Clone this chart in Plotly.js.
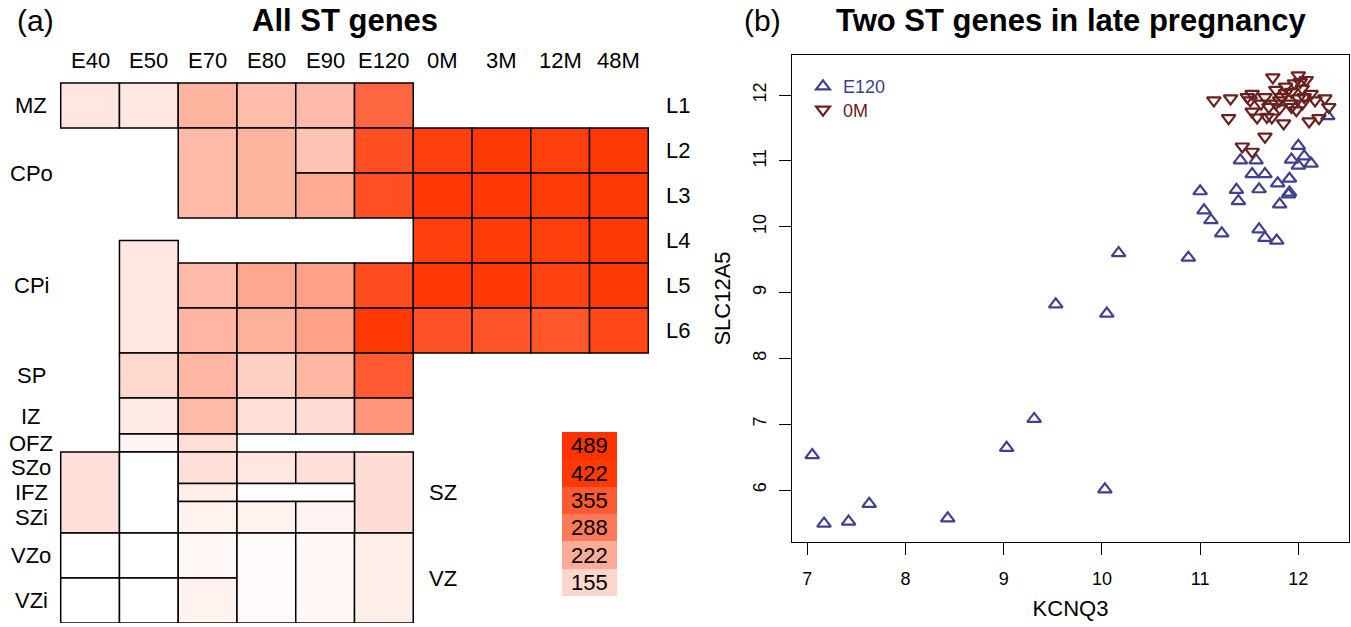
<!DOCTYPE html>
<html>
<head>
<meta charset="utf-8">
<script src="https://cdn.plot.ly/plotly-3.0.1.min.js"></script>
<style>html,body{margin:0;padding:0;background:#fff;}#chart{width:1351px;height:627px;}</style>
</head>
<body>
<div id="chart"></div>
<script>
// ---------------- Panel (a) data ----------------
const timepoints = ["E40","E50","E70","E80","E90","E120","0M","3M","12M","48M"];
const leftZones = ["MZ","CPo","CPi","SP","IZ","OFZ","SZo","IFZ","SZi","VZo","VZi"];
const leftZoneTop    = [0, 1, 3, 6, 7,   7.8, 8.2, 8.9, 9.3, 10, 11];
const leftZoneBottom = [1, 3, 6, 7, 7.8, 8.2, 8.9, 9.3, 10,  11, 12];
const rightZones = ["L1","L2","L3","L4","L5","L6","SZ","VZ"];
const rightZoneTop    = [0, 1, 2, 3, 4, 5, 8.2, 10];
const rightZoneBottom = [1, 2, 3, 4, 5, 6, 10,  12];
// cells: time index, number of time columns spanned, depth top/bottom (layer units), number of ST genes
const cellTime   = [0,1,2,3,4,5, 2,3,4,4,5,5, 6,7,8,9, 6,7,8,9, 6,7,8,9, 1, 2,3,4,5,6,7,8,9, 2,3,4,5,6,7,8,9, 1,2,3,4,5, 1,2,3,4,5, 1,2, 0,1,2,3,4,5,2,3,2,3,4, 0,1,2,0,1,2,3,4,5];
const cellSpan   = [1,1,1,1,1,1, 1,1,1,1,1,1, 1,1,1,1, 1,1,1,1, 1,1,1,1, 1, 1,1,1,1,1,1,1,1, 1,1,1,1,1,1,1,1, 1,1,1,1,1, 1,1,1,1,1, 1,1, 1,1,1,1,1,1,1,2,1,1,1, 1,1,1,1,1,1,1,1,1];
const cellTop    = [0,0,0,0,0,0, 1,1,1,2,1,2, 1,1,1,1, 2,2,2,2, 3,3,3,3, 3.5, 4,4,4,4,4,4,4,4, 5,5,5,5,5,5,5,5, 6,6,6,6,6, 7,7,7,7,7, 7.8,7.8, 8.2,8.2,8.2,8.2,8.2,8.2,8.9,8.9,9.3,9.3,9.3, 10,10,10,11,11,11,10,10,10];
const cellBottom = [1,1,1,1,1,1, 3,3,2,3,2,3, 2,2,2,2, 3,3,3,3, 4,4,4,4, 6, 5,5,5,5,5,5,5,5, 6,6,6,6,6,6,6,6, 7,7,7,7,7, 7.8,7.8,7.8,7.8,7.8, 8.2,8.2, 10,10,8.9,8.9,8.9,10,9.3,9.3,10,10,10, 11,11,11,12,12,12,12,12,12];
const cellValue  = [95,87,210,197,199,330, 200,210,183,224,378,378, 410,430,412,425, 440,440,418,430, 410,418,410,425, 92,
                    199,230,237,385,440,440,405,435, 207,215,237,440,374,370,364,395,
                    148,205,165,205,355, 80,202,118,129,252, 38,118,
                    118,0,118,95,118,129,65,0,49,49,42, 0,0,27,0,0,49,19,27,68];
const keyValues = [489,422,355,288,222,155];

// ---------------- Panel (b) data ----------------
const e120X = [7.05,7.17,7.42,7.63,8.43,9.03,9.31,10.03,10.05,9.53,10.17,10.88,11.00,11.04,11.11,11.22,11.37,11.39,11.41,11.57,11.53,11.66,11.60,11.79,11.60,11.66,11.78,11.81,11.91,11.90,11.91,12.00,11.93,12.06,12.00,12.13,12.30];
const e120Y = [6.53,5.49,5.52,5.79,5.57,6.64,7.08,6.01,8.68,8.82,9.60,9.53,10.54,10.25,10.10,9.90,10.56,10.39,11.01,11.01,10.80,10.80,10.57,10.66,9.96,9.83,9.79,10.34,10.73,10.49,10.52,11.23,11.02,11.07,10.93,10.96,11.68];
const m0X = [11.14,11.31,11.29,11.48,11.53,11.51,11.53,11.58,11.66,11.68,11.73,11.74,11.77,11.77,11.81,11.85,11.83,11.87,11.91,11.93,11.96,12.00,12.02,12.04,12.06,12.08,11.98,12.00,12.11,12.17,12.21,12.27,12.31,11.66,11.43,11.53,11.87,11.81,11.93,12.04,11.70,11.62,12.13];
const m0Y = [11.92,11.95,11.65,11.97,12.02,11.92,11.75,11.66,11.97,11.67,11.66,12.27,12.08,11.87,11.92,11.57,11.97,12.13,11.87,12.05,12.18,12.30,12.20,12.10,11.97,12.23,11.77,11.95,11.60,11.92,11.65,11.95,11.82,11.37,11.22,11.14,12.03,11.80,11.82,11.87,11.82,11.87,12.02];
const xTicks = [7,8,9,10,11,12];
const yTicks = [6,7,8,9,10,11,12];

// ---------------- styling / layout constants ----------------
const FONT = "Liberation Sans, Arial, Helvetica, sans-serif";
const W = 1351, H = 627;
const colorscale = [[0,'#FFFFFF'],[155/489,'#FFD6CC'],[222/489,'#FFAC96'],[288/489,'#FF7A5A'],[355/489,'#FF5A32'],[422/489,'#FF3A05'],[1,'#FF3300']];
const BLUE = '#40408F', RED = '#6B2020';

const cellTrace = {
  type:'bar', xaxis:'x2', yaxis:'y2',
  x: cellTime.map((c,i)=>c + cellSpan[i]/2),
  width: cellSpan.slice(),
  base: cellTop.slice(),
  y: cellBottom.map((b,i)=>b - cellTop[i]),
  marker:{color: cellValue.slice(), colorscale: colorscale, cmin:0, cmax:489,
          line:{color:'#000', width:1.5}},
  hoverinfo:'skip', showlegend:false
};
const keyTop = 7.76, keyStep = 0.607, keyCol = 9, keyWidth = 0.94;
const keyTrace = {
  type:'bar', xaxis:'x2', yaxis:'y2',
  x: keyValues.map(()=>keyCol),
  width: keyValues.map(()=>keyWidth),
  base: keyValues.map((v,i)=>keyTop + i*keyStep),
  y: keyValues.map(()=>keyStep),
  marker:{color: keyValues.slice(), colorscale: colorscale, cmin:0, cmax:489, line:{width:0}},
  hoverinfo:'skip', showlegend:false
};

const e120Trace = {type:'scatter', mode:'markers', x:e120X, y:e120Y, name:'E120', legend:'legend',
  marker:{symbol:'triangle-up-open', size:12, color:BLUE, line:{width:2.2, color:BLUE}}};
const m0Trace = {type:'scatter', mode:'markers', x:m0X, y:m0Y, name:'0M', legend:'legend2',
  marker:{symbol:'triangle-down-open', size:12, color:RED, line:{width:2.2, color:RED}}};

const annotations = [];
const txt = (text, x, y, size, extra) => Object.assign({text, x, y, xref:'x2', yref:'y2', showarrow:false,
  xanchor:'center', yanchor:'middle', font:{family:FONT, size, color:'#000'}}, extra||{});
timepoints.forEach((t,i)=>annotations.push(txt(t, i+0.5, -0.5, 22)));
leftZones.forEach((z,i)=>annotations.push(txt(z, -0.5, (leftZoneTop[i]+leftZoneBottom[i])/2, 22)));
const rightLabelCol = [10.5,10.5,10.5,10.5,10.5,10.5,6.5,6.5];
rightZones.forEach((z,i)=>annotations.push(txt(z, rightLabelCol[i], (rightZoneTop[i]+rightZoneBottom[i])/2, 22)));
keyValues.forEach((v,i)=>annotations.push(txt(String(v), keyCol, keyTop + (i+0.5)*keyStep, 22)));
// panel titles
const ptxt = (text, px, py, size, weight) => ({text, x:px/W, y:1-py/H, xref:'paper', yref:'paper', showarrow:false,
  xanchor:'center', yanchor:'middle', font:{family:FONT, size, color:'#000', weight:weight||'normal'}});
annotations.push(ptxt('(a)', 35, 21, 30));
annotations.push(ptxt('All ST genes', 345, 21, 31, 'bold'));
annotations.push(ptxt('(b)', 762, 21, 30));
annotations.push(ptxt('Two ST genes in late pregnancy', 1071, 21, 31, 'bold'));

// axis geometry (pixels)
const px0 = 60.7, colW = 58.76, py0 = 83, rowH = 45;
const x2Right = 0.52*W;

const layout = {
  width:W, height:H, margin:{l:0,r:0,t:0,b:0}, paper_bgcolor:'#fff', plot_bgcolor:'rgba(0,0,0,0)',
  barmode:'overlay', bargap:0,
  font:{family:FONT, color:'#000'},
  xaxis2:{domain:[0,0.52], range:[(0-px0)/colW, (x2Right-px0)/colW], visible:false, fixedrange:true},
  yaxis2:{domain:[(H-(py0+12*rowH))/H, 1], range:[12, -py0/rowH], visible:false, fixedrange:true},
  xaxis:{domain:[792/W, 1349/W], range:[6.844, 12.516], tickvals:xTicks, ticks:'outside', ticklen:12, tickwidth:1,
         tickcolor:'#000', showline:true, mirror:true, linecolor:'#000', linewidth:1.2, showgrid:false, zeroline:false,
         tickfont:{family:FONT, size:18, color:'#000'}, ticklabelstandoff:8,
         title:{text:'KCNQ3', font:{family:FONT, size:22, color:'#000'}, standoff:12}},
  yaxis:{domain:[85/H, 572/H], range:[5.21, 12.61], tickvals:yTicks, ticks:'outside', ticklen:12, tickwidth:1,
         tickcolor:'#000', showline:true, mirror:true, linecolor:'#000', linewidth:1.2, showgrid:false, zeroline:false,
         tickangle:-90, tickfont:{family:FONT, size:18, color:'#000'}, ticklabelstandoff:6,
         title:{text:'SLC12A5', font:{family:FONT, size:22, color:'#000'}, standoff:12}},
  legend:{x:803/W, y:1-86.7/H, xanchor:'left', yanchor:'middle', bgcolor:'rgba(0,0,0,0)', borderwidth:0,
          font:{family:FONT, size:18, color:BLUE}, itemwidth:30, tracegroupgap:0},
  legend2:{x:803/W, y:1-110/H, xanchor:'left', yanchor:'middle', bgcolor:'rgba(0,0,0,0)', borderwidth:0,
          font:{family:FONT, size:18, color:RED}, itemwidth:30, tracegroupgap:0},
  annotations: annotations,
  showlegend:true
};

Plotly.newPlot('chart', [cellTrace, keyTrace, e120Trace, m0Trace], layout, {displayModeBar:false, staticPlot:true});
</script>
</body>
</html>
